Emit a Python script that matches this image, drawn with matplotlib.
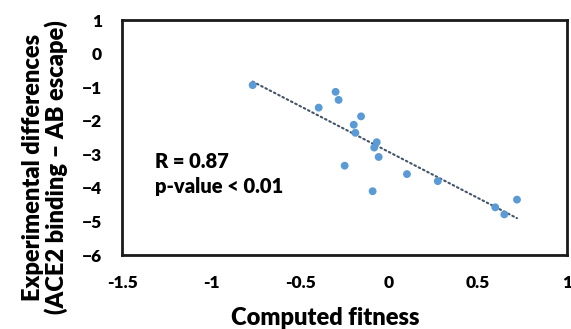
import numpy as np
import matplotlib
matplotlib.use('Agg')
import matplotlib.pyplot as plt

plt.rcParams['font.family'] = ['Lato', 'DejaVu Sans']
plt.rcParams['font.weight'] = 'heavy'

# Data
fitness = [-0.766, -0.30, -0.283, -0.395, -0.157, -0.198, -0.189, -0.069, -0.083,
           -0.058, -0.249, -0.092, 0.101, 0.274, 0.597, 0.648, 0.719]
exp_diff = [-0.94, -1.14, -1.38, -1.61, -1.87, -2.12, -2.36, -2.64, -2.80,
            -3.08, -3.34, -4.10, -3.59, -3.80, -4.58, -4.79, -4.35]
x_ticks = [-1.5, -1, -0.5, 0, 0.5, 1]
x_ticklabels = ['-1.5', '-1', '-0.5', '0', '0.5', '1']
y_ticks = [1, 0, -1, -2, -3, -4, -5, -6]

W = 'heavy'

fig = plt.figure(figsize=(5.71, 3.29), dpi=100)
ax = fig.add_axes([122 / 571, 1 - 255 / 329, (567 - 122) / 571, (255 - 20) / 329])

x = np.array(fitness)
y = np.array(exp_diff)

# linear trendline
slope, intercept = np.polyfit(x, y, 1)
xs = np.array([x.min(), x.max()])
ax.plot(xs, slope * xs + intercept, color='#44546A', linewidth=1.5,
        linestyle=(0, (0.8, 1.5)), dash_capstyle='round', zorder=2)

ax.scatter(x, y, s=32, color='#5B9BD5', edgecolors='none', zorder=3)

ax.set_xlim(-1.5, 1)
ax.set_ylim(-6, 1)
ax.set_xticks(x_ticks)
ax.set_xticklabels(x_ticklabels)
ax.set_yticks(y_ticks)
ax.tick_params(length=0, labelsize=12.5, pad=14.5)
for lbl in ax.get_xticklabels() + ax.get_yticklabels():
    lbl.set_fontweight(W)
for s in ax.spines.values():
    s.set_linewidth(2)
    s.set_color('#1a1a1a')

ax.text(0.074, 0.370, 'R = 0.87', transform=ax.transAxes, fontsize=14.5,
        fontweight=W, va='baseline')
ax.text(0.074, 0.264, 'p-value < 0.01', transform=ax.transAxes, fontsize=14.5,
        fontweight=W, va='baseline')

fig.text(325 / 571, 4 / 329, 'Computed fitness', ha='center', va='baseline',
         fontsize=17, fontweight=W)
fig.text(45 / 571, 1 - 167 / 329, 'Experimental differences\n(ACE2 binding \u2013 AB escape)',
         ha='center', va='center', rotation=90, fontsize=17, fontweight=W,
         linespacing=1.05)

fig.savefig('out.png', dpi=100)
